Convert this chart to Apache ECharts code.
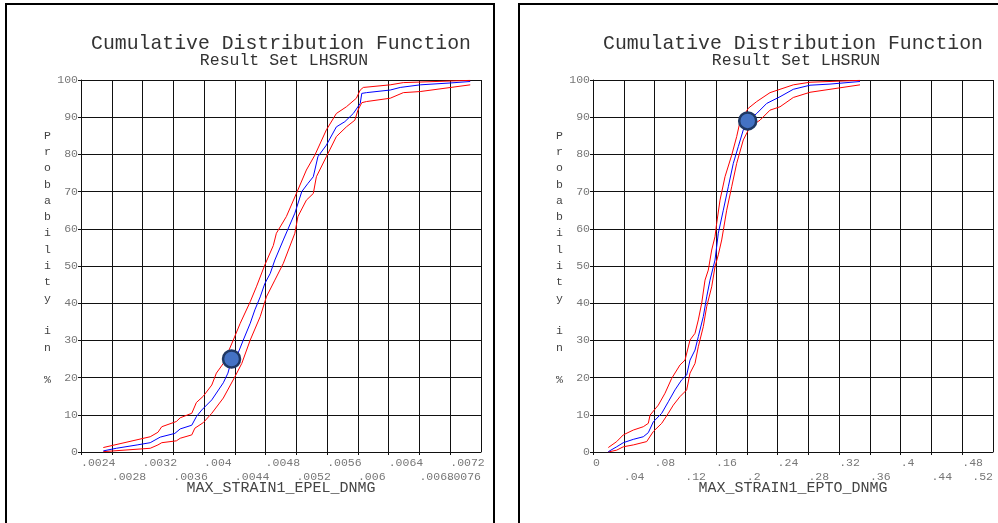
<!DOCTYPE html>
<html>
<head>
<meta charset="utf-8">
<script src="https://cdn.jsdelivr.net/npm/echarts@6/dist/echarts.min.js"></script>
<style>
  html, body { margin: 0; padding: 0; background: #fff; }
  #chart { width: 998px; height: 523px; }
</style>
</head>
<body>
<div id="chart"></div>
<script>
const titleText = 'Cumulative Distribution Function'
const subtitleText = 'Result Set LHSRUN'
const yName = 'Probability in %'
const xNames = ['MAX_STRAIN1_EPEL_DNMG', 'MAX_STRAIN1_EPTO_DNMG']

// x axis ranges [min, max, interval]
const epelRange = [0.0024, 0.0076, 0.0004]
const eptoRange = [0, 0.52, 0.04]
const probRange = [0, 100, 10]

// left panel: MAX_STRAIN1_EPEL_DNMG  [x, cumulative %]
const epelMedian = [
  [0.00269, 0.3], [0.00286, 1.0], [0.00313, 1.9], [0.00330, 2.5], [0.00343, 4.0],
  [0.00362, 5.0], [0.00369, 6.2], [0.00384, 7.2], [0.00390, 9.5], [0.00397, 11.3],
  [0.00410, 14.0], [0.00425, 18.6], [0.00431, 21.2], [0.00436, 25.0], [0.00444, 26.5],
  [0.00451, 30.1], [0.00460, 34.6], [0.00466, 38.2], [0.00473, 41.7], [0.00479, 45.3],
  [0.00486, 48.0], [0.00492, 51.6], [0.00503, 57.0], [0.00518, 64.2], [0.00527, 70.0],
  [0.00535, 72.2], [0.00542, 74.0], [0.00548, 79.4], [0.00559, 82.5], [0.00572, 87.4],
  [0.00583, 88.8], [0.00594, 91.0], [0.00603, 93.7], [0.00605, 96.4], [0.00611, 96.6],
  [0.00642, 97.3], [0.00655, 98.0], [0.00681, 98.7], [0.00720, 99.2], [0.00746, 99.6]
]
const epelUpper = [
  [0.00269, 1.2], [0.00330, 4.1], [0.00340, 5.3], [0.00345, 6.8], [0.00360, 7.9],
  [0.00364, 8.2], [0.00369, 9.2], [0.00384, 10.4], [0.00390, 13.3], [0.00399, 15.0],
  [0.00410, 18.0], [0.00416, 21.2], [0.00425, 23.8], [0.00438, 30.1], [0.00447, 34.6],
  [0.00460, 40.4], [0.00468, 44.4], [0.00479, 50.3], [0.00490, 55.5], [0.00494, 58.8],
  [0.00507, 63.3], [0.00520, 69.5], [0.00533, 75.8], [0.00544, 79.8], [0.00559, 86.6],
  [0.00572, 91.0], [0.00585, 92.8], [0.00598, 95.1], [0.00603, 97.3], [0.00607, 98.0],
  [0.00642, 98.7], [0.00659, 99.3], [0.00746, 99.9]
]
const epelLower = [
  [0.00269, 0.1], [0.00330, 1.0], [0.00340, 1.9], [0.00345, 2.5], [0.00364, 3.0],
  [0.00369, 3.7], [0.00384, 4.6], [0.00388, 6.4], [0.00399, 7.9], [0.00410, 10.4],
  [0.00425, 14.5], [0.00440, 20.2], [0.00449, 23.8], [0.00460, 30.1], [0.00473, 36.4],
  [0.00481, 41.7], [0.00492, 46.2], [0.00503, 50.7], [0.00518, 58.8], [0.00522, 63.3],
  [0.00533, 67.7], [0.00542, 69.5], [0.00546, 74.0], [0.00559, 79.4], [0.00572, 84.8],
  [0.00585, 87.4], [0.00596, 89.2], [0.00600, 91.9], [0.00605, 93.9], [0.00611, 94.2],
  [0.00642, 95.1], [0.00659, 96.6], [0.00681, 96.9], [0.00746, 98.7]
]
const epelMarker = [[0.004357, 25.0]]

// right panel: MAX_STRAIN1_EPTO_DNMG  [x, cumulative %]
const eptoMedian = [
  [0.0199, 0.1], [0.0308, 1.4], [0.0394, 2.5], [0.0524, 3.4], [0.0654, 4.1],
  [0.0719, 5.2], [0.0784, 8.1], [0.0893, 10.4], [0.0979, 13.5], [0.1066, 16.7],
  [0.1153, 19.4], [0.1218, 20.7], [0.1261, 24.7], [0.1326, 27.4], [0.1369, 31.0],
  [0.1434, 36.4], [0.1478, 41.7], [0.1521, 46.2], [0.1586, 51.6], [0.1629, 58.8],
  [0.1694, 65.0], [0.1759, 71.3], [0.1824, 77.6], [0.1889, 82.1], [0.1954, 86.6],
  [0.2011, 89.0], [0.2128, 91.0], [0.2258, 93.7], [0.2431, 95.5], [0.2604, 97.5],
  [0.2821, 98.6], [0.3081, 98.9], [0.3471, 99.6]
]
const eptoUpper = [
  [0.0199, 1.2], [0.0308, 2.8], [0.0394, 4.6], [0.0524, 5.9], [0.0654, 6.8],
  [0.0719, 7.7], [0.0741, 9.9], [0.0849, 12.6], [0.0936, 15.8], [0.1023, 19.8],
  [0.1131, 23.4], [0.1196, 24.7], [0.1261, 30.1], [0.1326, 31.9], [0.1369, 35.5],
  [0.1413, 40.0], [0.1456, 46.2], [0.1499, 48.9], [0.1543, 54.3], [0.1586, 57.9],
  [0.1608, 61.5], [0.1651, 67.7], [0.1716, 74.0], [0.1803, 79.8], [0.1868, 84.8],
  [0.1911, 88.8], [0.2019, 92.4], [0.2128, 94.2], [0.2301, 96.6], [0.2431, 97.5],
  [0.2604, 98.7], [0.2821, 99.4], [0.3471, 99.9]
]
const eptoLower = [
  [0.0199, 0.0], [0.0308, 0.5], [0.0394, 1.4], [0.0524, 1.9], [0.0698, 2.8],
  [0.0784, 5.5], [0.0893, 7.7], [0.0979, 10.4], [0.1044, 12.6], [0.1131, 14.9],
  [0.1218, 16.7], [0.1261, 21.2], [0.1326, 23.8], [0.1369, 28.3], [0.1434, 33.7],
  [0.1478, 39.1], [0.1543, 44.4], [0.1586, 49.8], [0.1629, 53.0], [0.1673, 57.0],
  [0.1738, 65.0], [0.1803, 71.3], [0.1868, 77.6], [0.1954, 83.9], [0.2041, 87.4],
  [0.2171, 89.2], [0.2301, 91.9], [0.2431, 92.8], [0.2604, 95.3], [0.2821, 96.7],
  [0.3471, 98.7]
]
const eptoMarker = [[0.2011, 89.0]]

const mono = 'Liberation Mono, Courier New, monospace'
const gridLeft = [81, 593]
const plotWidth = 400
const gridColor = '#111'

const fmt = v => (v === 0 ? '0' : String(+v.toFixed(6)).replace(/^0\./, '.'))

// labels alternate between two rows: even ticks on the first axis, odd ticks on a second one
const labelStyle = {
  fontFamily: mono,
  fontSize: 11.5,
  color: '#777',
  align: 'left',
  alignMaxLabel: 'right',
  hideOverlap: false
}

const makeXAxes = (idx, range) => [
  {
    type: 'value',
    gridIndex: idx,
    position: 'bottom',
    min: range[0],
    max: range[1],
    interval: range[2],
    name: xNames[idx],
    nameLocation: 'middle',
    nameGap: 29,
    nameMoveOverlap: false,
    nameTextStyle: { fontFamily: mono, fontSize: 15, color: '#444' },
    axisLine: { show: true, lineStyle: { color: gridColor } },
    axisTick: { show: true, length: 3, lineStyle: { color: gridColor } },
    splitLine: { show: true, lineStyle: { color: gridColor, width: 1 } },
    axisLabel: {
      ...labelStyle,
      margin: 5,
      showMinLabel: true,
      showMaxLabel: false,
      formatter: (v, i) => (i % 2 ? '' : fmt(v))
    }
  },
  {
    type: 'value',
    gridIndex: idx,
    position: 'bottom',
    min: range[0],
    max: range[1],
    interval: range[2],
    axisLine: { show: false },
    axisTick: { show: false },
    splitLine: { show: false },
    axisLabel: {
      ...labelStyle,
      margin: 19,
      showMinLabel: false,
      showMaxLabel: true,
      formatter: (v, i) => (i % 2 ? fmt(v) : '')
    }
  }
]

const makeYAxis = idx => ({
  type: 'value',
  gridIndex: idx,
  min: probRange[0],
  max: probRange[1],
  interval: probRange[2],
  // one letter per line; the trailing blank line lifts the column a little
  name: yName.split('').join('\n') + '\n ',
  nameLocation: 'middle',
  nameRotate: 0,
  nameGap: 30,
  nameMoveOverlap: false,
  nameTextStyle: { fontFamily: mono, fontSize: 11.5, lineHeight: 16.3, color: '#444' },
  axisLine: { show: true, lineStyle: { color: gridColor } },
  axisTick: { show: true, length: 3, lineStyle: { color: gridColor } },
  splitLine: { show: true, lineStyle: { color: gridColor, width: 1 } },
  axisLabel: {
    margin: 3,
    fontFamily: mono,
    fontSize: 11.5,
    color: '#777',
    padding: [0, 0, 5, 0]
  }
})

const lineSeries = (xIdx, yIdx, data, color) => ({
  type: 'line',
  xAxisIndex: xIdx,
  yAxisIndex: yIdx,
  data: data,
  showSymbol: false,
  symbol: 'none',
  lineStyle: { color: color, width: 1 },
  z: 3
})

const markerSeries = (xIdx, yIdx, data) => ({
  type: 'scatter',
  xAxisIndex: xIdx,
  yAxisIndex: yIdx,
  data: data,
  symbolSize: 17,
  itemStyle: { color: '#4472c4', borderColor: '#1f3864', borderWidth: 2.5, opacity: 1 },
  z: 5
})

const makeTitles = idx => {
  const cx = gridLeft[idx] + plotWidth / 2
  return [
    {
      text: titleText, left: cx, top: 33, textAlign: 'center', padding: 0,
      textStyle: { fontFamily: mono, fontSize: 19.8, lineHeight: 22, fontWeight: 'normal', color: '#333' }
    },
    {
      text: subtitleText, left: cx + 3, top: 52, textAlign: 'center', padding: 0,
      textStyle: { fontFamily: mono, fontSize: 16.5, lineHeight: 18, fontWeight: 'normal', color: '#333' }
    }
  ]
}

const chart = echarts.init(document.getElementById('chart'))

const option = {
  animation: false,
  backgroundColor: '#fff',
  title: [...makeTitles(0), ...makeTitles(1)],
  grid: [
    { left: gridLeft[0], top: 80, width: plotWidth, height: 372 },
    { left: gridLeft[1], top: 80, width: plotWidth, height: 372 }
  ],
  xAxis: [...makeXAxes(0, epelRange), ...makeXAxes(1, eptoRange)],
  yAxis: [makeYAxis(0), makeYAxis(1)],
  graphic: [
    {
      type: 'rect', shape: { x: 6, y: 4, width: 488, height: 540 },
      style: { fill: 'none', stroke: '#000', lineWidth: 2 }, silent: true
    },
    {
      type: 'rect', shape: { x: 519, y: 4, width: 500, height: 540 },
      style: { fill: 'none', stroke: '#000', lineWidth: 2 }, silent: true
    }
  ],
  series: [
    lineSeries(0, 0, epelUpper, '#ff0000'),
    lineSeries(0, 0, epelLower, '#ff0000'),
    lineSeries(0, 0, epelMedian, '#0000ff'),
    markerSeries(0, 0, epelMarker),
    lineSeries(2, 1, eptoUpper, '#ff0000'),
    lineSeries(2, 1, eptoLower, '#ff0000'),
    lineSeries(2, 1, eptoMedian, '#0000ff'),
    markerSeries(2, 1, eptoMarker)
  ]
}

chart.setOption(option)
</script>
</body>
</html>
